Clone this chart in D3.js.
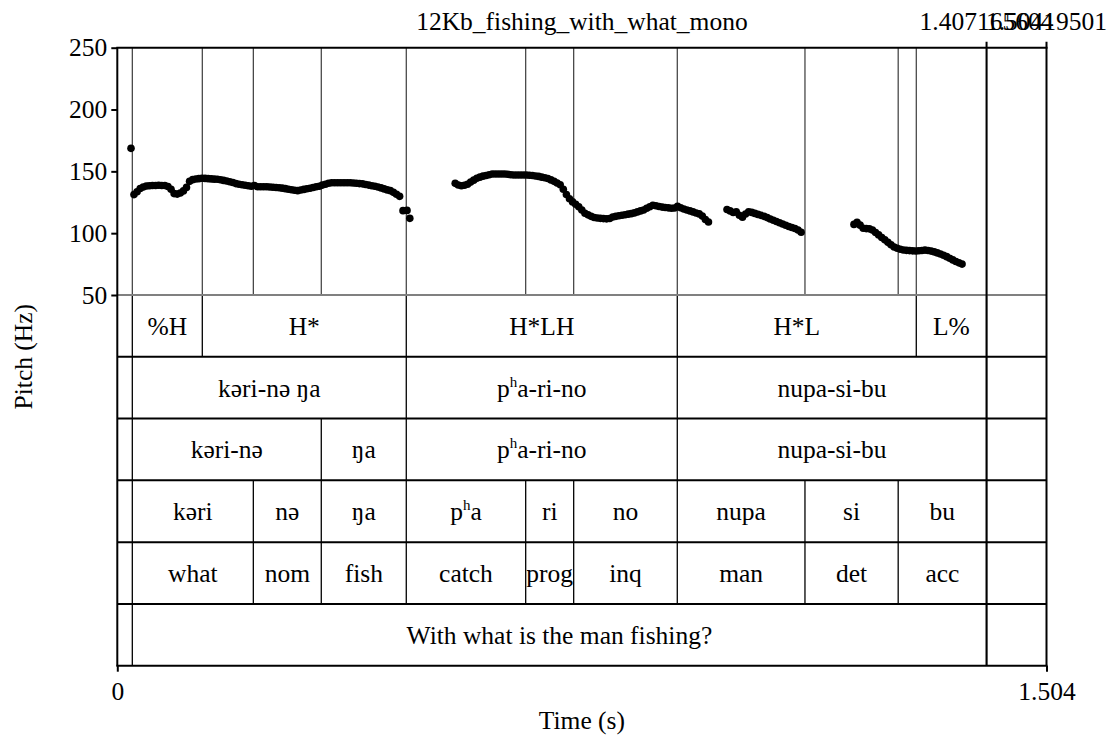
<!DOCTYPE html>
<html>
<head>
<meta charset="utf-8">
<script src="https://cdn.jsdelivr.net/npm/d3@7"></script>
<style>
  html, body { margin: 0; padding: 0; background: #fff; }
  svg { display: block; }
</style>
</head>
<body>
<svg id="chart" width="1113" height="735"></svg>
<script>
// ---- recording info ----
const fileTitle = "12Kb_fishing_with_what_mono";
const totalDuration = 1.50419501;
const selectionStart = 1.407165604;
const selectionLabels = ["1.407165604", "1.50419501"];

// ---- axis ticks ----
const pitchTicks = [50, 100, 150, 200, 250];
const timeTicks = [0, totalDuration];
const timeTickLabels = ["0", "1.504"];

// ---- pitch track: voiced stretches sampled every 5 ms (Hz) ----
const frameStep = 0.005;
const voicedStarts = [0.027, 0.547, 0.987, 1.1925];
const voiced1Hz = [
  131.2, 133.5, 136.1, 137.4, 138.2, 138.4, 138.5, 138.6, 138.7, 138.6,
  138.5, 137.8, 135.5, 132.0, 131.6, 132.5, 134.2, 137.0, 141.9, 143.3,
  143.8, 144.1, 144.4, 144.3, 144.1, 143.9, 143.7, 143.6, 143.2, 142.7,
  142.2, 141.6, 141.0, 140.1, 139.6, 139.2, 138.8, 138.3, 137.9, 138.6,
  137.6, 137.6, 137.6, 137.6, 137.4, 137.1, 136.9, 136.7, 136.4, 136.0,
  135.5, 135.1, 134.7, 134.4, 134.9, 135.4, 135.9, 136.3, 136.9, 137.5,
  138.0, 138.9, 139.6, 140.4, 140.8, 140.8, 140.8, 140.8, 140.8, 140.8,
  140.8, 140.6, 140.4, 140.1, 139.9, 139.4, 138.9, 138.4, 137.9, 137.3,
  136.6, 135.8, 135.0, 134.4, 133.0, 131.5, 129.8
];
const voiced2Hz = [
  140.3, 139.0, 138.3, 138.7, 139.6, 141.3, 142.9, 144.4, 145.3, 146.1,
  146.7, 147.3, 147.8, 147.9, 147.9, 147.9, 147.8, 147.6, 147.3, 147.0,
  147.0, 147.0, 147.0, 147.0, 146.8, 146.6, 146.3, 145.9, 145.3, 144.8,
  144.2, 143.1, 141.9, 140.6, 139.2, 135.5, 131.3, 127.9, 125.3, 123.4,
  121.3, 118.7, 116.1, 114.8, 113.6, 112.7, 112.3, 112.0, 111.8, 111.6,
  111.9, 113.1, 113.6, 114.1, 114.5, 114.9, 115.4, 115.8, 116.4, 117.2,
  118.0, 118.8, 120.1, 121.4, 122.6, 122.2, 121.6, 121.1, 120.8, 120.5,
  120.2, 120.4, 121.8, 120.6, 119.6, 118.7, 118.0, 117.2, 116.3, 115.6,
  113.8, 111.0, 109.0
];
const voiced3Hz = [
  119.2, 118.0, 116.7, 117.2, 114.5, 112.9, 115.5, 117.3, 116.8, 116.0,
  115.2, 114.4, 113.6, 112.6, 111.5, 110.4, 109.4, 108.4, 107.4, 106.4,
  105.4, 104.6, 103.8, 102.6, 100.8
];
const voiced4Hz = [
  107.1, 108.8, 106.5, 104.0, 103.7, 103.5, 102.5, 100.6, 98.6, 96.5,
  94.6, 92.6, 90.6, 88.8, 87.8, 87.0, 86.4, 86.1, 85.9, 85.7,
  85.6, 85.8, 86.0, 86.3, 86.0, 85.5, 84.9, 84.1, 83.1, 82.1,
  81.0, 79.7, 78.4, 77.1, 76.0, 75.0
];
// isolated frames outside the stretches above
const strayTime = [0.0222, 0.4625, 0.469, 0.4735];
const strayHz = [168.6, 118.2, 118.4, 112.0];

// ---- annotation tiers: boundary times and interval labels ----
const toneBounds = [0, 0.0243, 0.1376, 0.4678, 0.9065, 1.2934, selectionStart, totalDuration];
const toneLabels = ["", "%H", "H*", "H*LH", "H*L", "L%", ""];

const phraseBounds = [0, 0.0243, 0.4678, 0.9065, selectionStart, totalDuration];
const phraseLabels = ["", "kəri-nə ŋa", "pʰa-ri-no", "nupa-si-bu", ""];

const wordBounds = [0, 0.0243, 0.3302, 0.4678, 0.9065, selectionStart, totalDuration];
const wordLabels = ["", "kəri-nə", "ŋa", "pʰa-ri-no", "nupa-si-bu", ""];

const morphBounds = [0, 0.0243, 0.2202, 0.3302, 0.4678, 0.6611, 0.7388, 0.9065, 1.1132, 1.2641, selectionStart, totalDuration];
const morphLabels = ["", "kəri", "nə", "ŋa", "pʰa", "ri", "no", "nupa", "si", "bu", ""];

const glossBounds = morphBounds;
const glossLabels = ["", "what", "nom", "fish", "catch", "prog", "inq", "man", "det", "acc", ""];

const transBounds = [0, 0.0243, selectionStart, totalDuration];
const transLabels = ["", "With what is the man fishing?", ""];

const tiers = [
  { name: "tone", bounds: toneBounds, labels: toneLabels },
  { name: "phrase", bounds: phraseBounds, labels: phraseLabels },
  { name: "word", bounds: wordBounds, labels: wordLabels },
  { name: "morph", bounds: morphBounds, labels: morphLabels },
  { name: "gloss", bounds: glossBounds, labels: glossLabels },
  { name: "translation", bounds: transBounds, labels: transLabels }
];

// ---- assemble pitch frames ----
const pitchFrames = [];
[voiced1Hz, voiced2Hz, voiced3Hz, voiced4Hz].forEach((vals, s) => {
  vals.forEach((f, i) => pitchFrames.push({ t: voicedStarts[s] + i * frameStep, f }));
});
strayTime.forEach((t, i) => pitchFrames.push({ t, f: strayHz[i] }));

// ---- layout ----
const FONT = 25.5;
const SERIF = '"Liberation Serif", "Times New Roman", Times, serif';
const left = 117.3, right = 1046.5;
const pitchTop = 47.7, pitchBottom = 295, gridBottom = 665.7;

const svg = d3.select("#chart");
const x = d3.scaleLinear().domain([0, totalDuration]).range([left, right]);
const y = d3.scaleLinear().domain([50, 250]).range([pitchBottom, pitchTop]);
const tierBand = d3.scaleBand().domain(tiers.map(d => d.name)).range([pitchBottom, gridBottom]);

function serifText(sel) {
  return sel.style("font-family", SERIF).style("font-size", FONT + "px").style("fill", "#000");
}

// boundary lines through the pitch panel (union of all tiers)
const allBounds = Array.from(new Set(tiers.flatMap(t => t.bounds.slice(1, -1)))).sort((a, b) => a - b);
svg.append("g")
  .selectAll("line")
  .data(allBounds)
  .join("line")
  .attr("x1", d => x(d)).attr("x2", d => x(d))
  .attr("y1", pitchTop).attr("y2", pitchBottom)
  .attr("stroke", "#3a3a3a").attr("stroke-width", 1.2);

// tiers
const tierG = svg.append("g");
tiers.forEach(tier => {
  const top = tierBand(tier.name), h = tierBand.bandwidth();
  const g = tierG.append("g");
  g.selectAll("line")
    .data(tier.bounds.slice(1, -1))
    .join("line")
    .attr("x1", d => x(d)).attr("x2", d => x(d))
    .attr("y1", top).attr("y2", top + h)
    .attr("stroke", "#000").attr("stroke-width", 1.3);
  const intervals = tier.labels.map((lab, i) => ({ lab, t0: tier.bounds[i], t1: tier.bounds[i + 1] }))
    .filter(d => d.lab !== "");
  g.selectAll("text")
    .data(intervals)
    .join("text")
    .attr("x", d => (x(d.t0) + x(d.t1)) / 2)
    .attr("y", top + h / 2 + 9)
    .attr("text-anchor", "middle")
    .call(serifText)
    .each(function (d) {
      const parts = d.lab.split("ʰ");
      const t = d3.select(this);
      if (parts.length === 1) { t.text(d.lab); return; }
      t.append("tspan").text(parts[0]);
      t.append("tspan").attr("dy", -10).style("font-size", "15px").text("h");
      t.append("tspan").attr("dy", 10).text(parts[1]);
    });
});

// tier separator lines
svg.append("g")
  .selectAll("line")
  .data(tiers.slice(1).map(t => tierBand(t.name)))
  .join("line")
  .attr("x1", left).attr("x2", right)
  .attr("y1", d => d).attr("y2", d => d)
  .attr("stroke", "#000").attr("stroke-width", 2);

// bottom edge of the pitch panel
svg.append("line")
  .attr("x1", left).attr("x2", right)
  .attr("y1", pitchBottom).attr("y2", pitchBottom)
  .attr("stroke", "#808080").attr("stroke-width", 2);

// pitch points
svg.append("g")
  .selectAll("circle")
  .data(pitchFrames)
  .join("circle")
  .attr("cx", d => x(d.t))
  .attr("cy", d => y(d.f))
  .attr("r", 3.8)
  .attr("fill", "#000");

// selection hair
svg.append("line")
  .attr("x1", x(selectionStart)).attr("x2", x(selectionStart))
  .attr("y1", pitchTop - 6).attr("y2", gridBottom)
  .attr("stroke", "#000").attr("stroke-width", 2);

// frame
const frame = svg.append("g").attr("stroke", "#000").attr("stroke-width", 2).attr("fill", "none");
frame.append("line").attr("x1", left - 1).attr("x2", right + 1).attr("y1", pitchTop).attr("y2", pitchTop);
frame.append("line").attr("x1", left - 1).attr("x2", right + 1).attr("y1", gridBottom).attr("y2", gridBottom);
frame.append("line").attr("x1", left).attr("x2", left).attr("y1", pitchTop).attr("y2", gridBottom);
frame.append("line").attr("x1", right).attr("x2", right).attr("y1", pitchTop - 6).attr("y2", gridBottom);

// selection time labels at the top
svg.append("g")
  .selectAll("text")
  .data([selectionStart, totalDuration].map((t, i) => ({ t, lab: selectionLabels[i] })))
  .join("text")
  .attr("x", d => x(d.t))
  .attr("y", 30)
  .attr("text-anchor", "middle")
  .call(serifText)
  .text(d => d.lab);

// title
svg.append("text")
  .attr("x", (left + right) / 2)
  .attr("y", 30)
  .attr("text-anchor", "middle")
  .call(serifText)
  .text(fileTitle);

// pitch axis
const yAxis = svg.append("g")
  .attr("transform", `translate(${left},0)`)
  .call(d3.axisLeft(y).tickValues(pitchTicks).tickSize(6).tickPadding(4));
yAxis.select(".domain").remove();
yAxis.selectAll("line").attr("stroke", "#000").attr("stroke-width", 2);
yAxis.selectAll("text").call(serifText);

// time axis
const xAxis = svg.append("g")
  .attr("transform", `translate(0,${gridBottom})`)
  .call(d3.axisBottom(x).tickValues(timeTicks).tickSize(6).tickPadding(10)
    .tickFormat((d, i) => timeTickLabels[i]));
xAxis.select(".domain").remove();
xAxis.selectAll("line").attr("stroke", "#000").attr("stroke-width", 2);
xAxis.selectAll("text").call(serifText);

// axis titles
svg.append("text")
  .attr("x", (left + right) / 2)
  .attr("y", 729)
  .attr("text-anchor", "middle")
  .call(serifText)
  .text("Time (s)");

svg.append("text")
  .attr("transform", `translate(32,${(pitchTop + gridBottom) / 2}) rotate(-90)`)
  .attr("text-anchor", "middle")
  .call(serifText)
  .text("Pitch (Hz)");
</script>
</body>
</html>
